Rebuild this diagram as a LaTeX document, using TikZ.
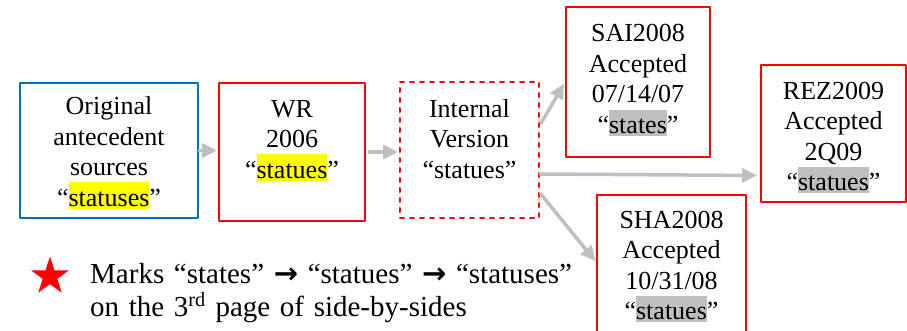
\documentclass[tikz,border=0pt]{standalone}
\usepackage{fontspec}
\setmainfont{Liberation Serif}
\newfontfamily\arrowfont{DejaVu Sans}
\usetikzlibrary{arrows.meta,shapes.geometric}

\definecolor{boxred}{RGB}{255,0,0}
\definecolor{boxblue}{RGB}{0,112,192}
\definecolor{arrowgray}{RGB}{191,191,191}
\definecolor{hlyellow}{RGB}{255,255,0}
\definecolor{hlgray}{RGB}{191,191,191}

\newcommand{\hlword}[2]{{\setlength{\fboxsep}{0pt}\colorbox{#1}{\rule[-0.1em]{0pt}{1.02em}#2}}}
\newcommand{\thickarrow}{{\arrowfont\bfseries →}}

\tikzset{
  box/.style={draw=boxred, line width=2pt, inner sep=0pt},
  srcbox/.style={box, draw=boxblue},
  draftbox/.style={box, dash pattern=on 4pt off 6pt},
  boxtext/.style={anchor=base, inner sep=0pt, align=center, text width=#1, font=\fontsize{26}{30.5}\selectfont},
  boxtext/.default=140pt,
  flow/.style={draw=arrowgray, line width=3.5pt, ->}
}

\begin{document}
\begin{tikzpicture}[line cap=round,line join=round,>={Triangle[length=15pt,width=14pt]},x=1pt,y=1pt]
\useasboundingbox (0,0) rectangle (907,330);
\node[srcbox, minimum width=178pt, minimum height=135pt] (orig) at (109,179.5) {};
\node[box, minimum width=146pt, minimum height=138pt] (wr) at (292,178) {};
\node[draftbox, minimum width=139pt, minimum height=136pt] (int) at (469.5,180) {};
\node[box, minimum width=144pt, minimum height=150pt] (sai) at (638,248) {};
\node[box, minimum width=145pt, minimum height=137pt] (rez) at (833.5,196.5) {};
\node[box, minimum width=149pt, minimum height=150pt] (sha) at (671.5,60) {};

\node[boxtext=170pt] (origtext) at ([yshift=-32.7pt]orig.north) {Original\\antecedent\\sources\\“\hlword{hlyellow}{statuses}”};
\node[boxtext] (wrtext) at ([yshift=-35pt]wr.north) {WR\\2006\\“\hlword{hlyellow}{statues}”};
\node[boxtext] (inttext) at ([yshift=-36pt]int.north) {Internal\\Version\\“statues”};
\node[boxtext] (saitext) at ([yshift=-36pt]sai.north) {SAI2008\\Accepted\\07/14/07\\“\hlword{hlgray}{states}”};
\node[boxtext] (reztext) at ([yshift=-35pt]rez.north) {REZ2009\\Accepted\\2Q09\\“\hlword{hlgray}{statues}”};
\node[boxtext] (shatext) at ([yshift=-34pt]sha.north) {SHA2008\\Accepted\\10/31/08\\“\hlword{hlgray}{statues}”};

\draw[flow, shorten >=1pt] (orig.east) -- (orig.east -| wr.west);
\draw[flow, shorten <=3pt, shorten >=1pt] (wr.east) -- (wr.east -| int.west);
\draw[flow, shorten <=2pt, shorten >=2pt] ([yshift=25pt]int.east) -- (sai.west);
\draw[flow, shorten >=3pt] ([yshift=-24pt]int.east) -- ([yshift=-42pt]rez.west);
\draw[flow, shorten <=1pt, shorten >=1pt] ([yshift=-43pt]int.east) -- ([yshift=8pt]sha.west);

\node[star, star points=5, star point ratio=2.618, fill=boxred, inner sep=0pt, minimum size=40pt] (legendstar) at (50,53.5) {};
\node[anchor=base west, inner sep=0pt, align=left, text width=540pt, font=\fontsize{29}{33}\selectfont] (legendtext) at (90,47) {Marks “states” \thickarrow{} “statues” \thickarrow{} “statuses”\\on the 3\textsuperscript{rd} page of side-by-sides};
\end{tikzpicture}
\end{document}
